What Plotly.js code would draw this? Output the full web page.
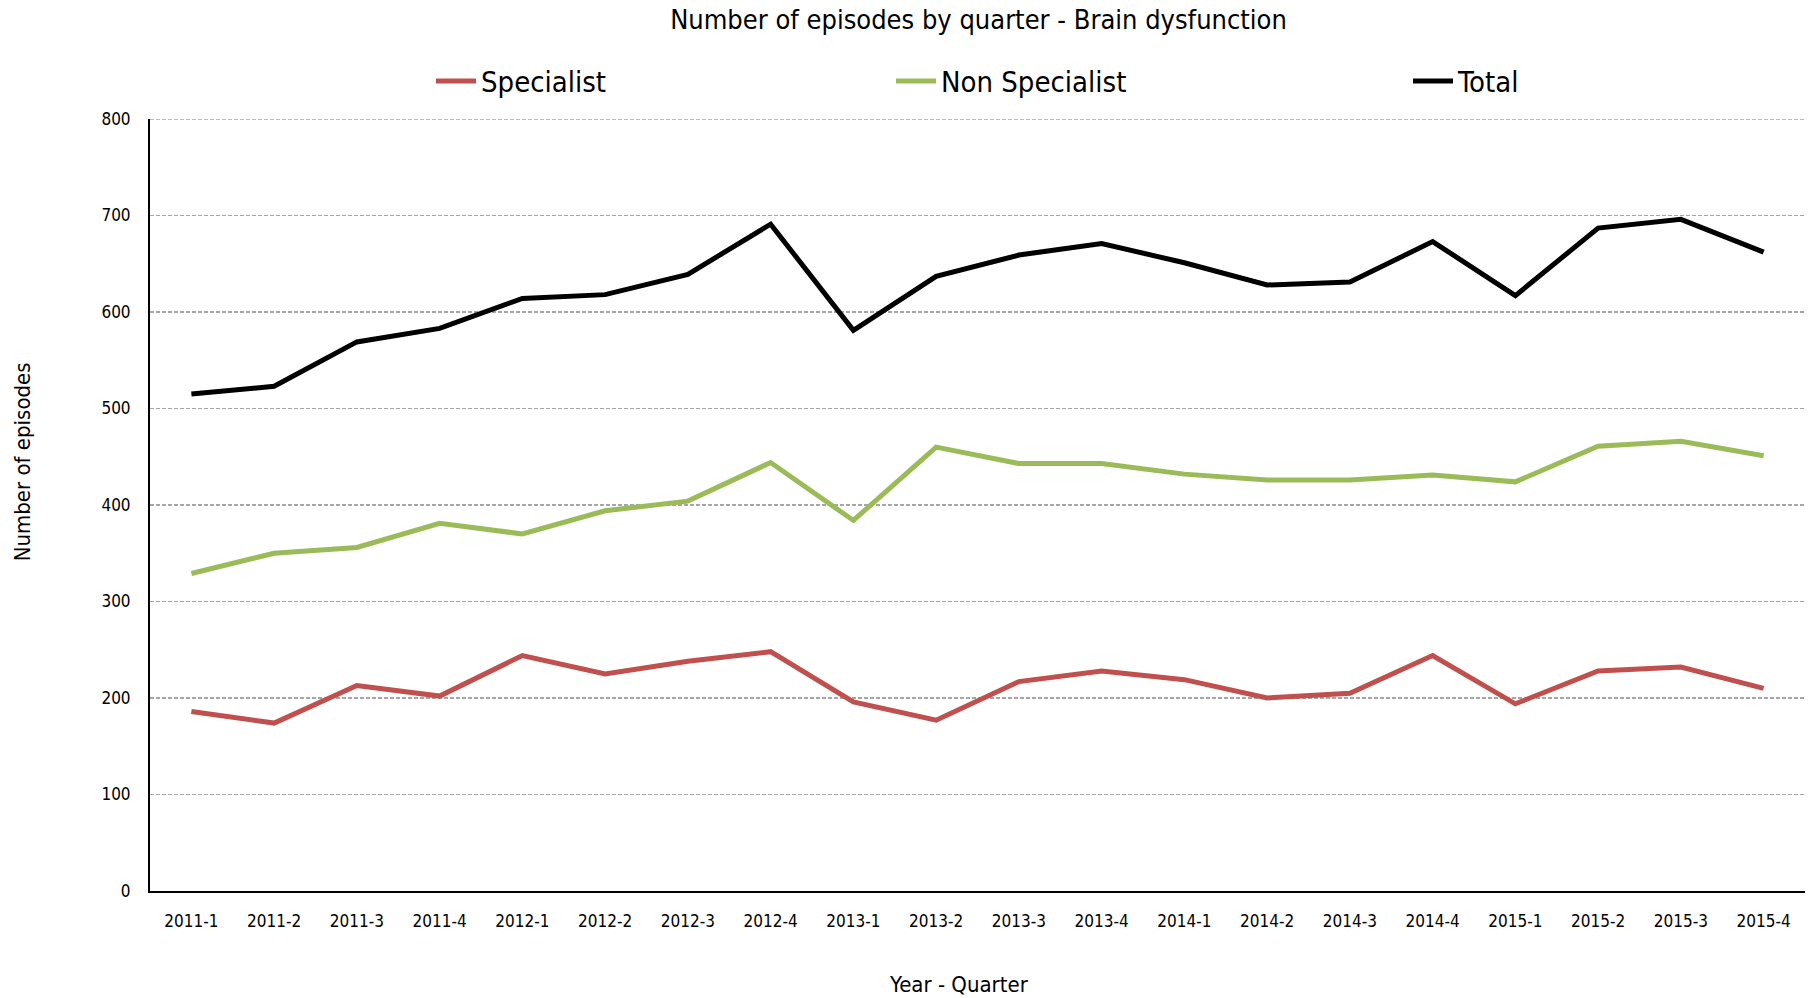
<!DOCTYPE html>
<html>
<head>
<meta charset="utf-8">
<script src="https://cdn.plot.ly/plotly-3.0.1.min.js"></script>
<style>html,body{margin:0;padding:0;background:#fff;}#chart{width:1812px;height:998px;}</style>
</head>
<body>
<div id="chart"></div>
<script>
const quarters = ["2011-1","2011-2","2011-3","2011-4","2012-1","2012-2","2012-3","2012-4","2013-1","2013-2","2013-3","2013-4","2014-1","2014-2","2014-3","2014-4","2015-1","2015-2","2015-3","2015-4"];
const specialist = [186,174,213,202,244,225,238,248,196,177,217,228,219,200,205,244,194,228,232,210];
const nonSpecialist = [329,350,356,381,370,394,404,444,384,460,443,443,432,426,426,431,424,461,466,451];
const total = [515,523,569,583,614,618,639,691,581,637,659,671,651,628,631,673,617,687,696,662];

const FONT = "'Liberation Sans Narrow', 'DejaVu Sans Condensed', 'Liberation Sans', sans-serif";
const GRID_DASH = "4px,2px";

const traces = [
  {x: quarters, y: specialist, name: "Specialist", type: "scatter", mode: "lines",
   line: {color: "#C0504D", width: 5}, legend: "legend"},
  {x: quarters, y: nonSpecialist, name: "Non Specialist", type: "scatter", mode: "lines",
   line: {color: "#9BBB59", width: 5}, legend: "legend2"},
  {x: quarters, y: total, name: "Total", type: "scatter", mode: "lines",
   line: {color: "#000000", width: 5}, legend: "legend3"}
];

function leg(xpx) {
  return {orientation: "h", x: (xpx - 150) / 1655, xanchor: "left", y: 1.049, yanchor: "middle",
          bgcolor: "rgba(0,0,0,0)", font: {family: FONT, size: 29, color: "#000"}, itemwidth: 40};
}

const layout = {
  width: 1812, height: 998,
  margin: {l: 150, r: 7, t: 119, b: 107},
  paper_bgcolor: "#fff", plot_bgcolor: "#fff",
  font: {family: FONT, color: "#000"},
  title: {text: "Number of episodes by quarter - Brain dysfunction", font: {family: FONT, size: 27, color: "#000"},
          x: 0.54, xanchor: "center", y: 0.98, yanchor: "middle"},
  showlegend: true,
  legend: leg(431),
  legend2: leg(891),
  legend3: leg(1408),
  xaxis: {
    type: "category", range: [-0.5, 19.5],
    showline: true, linecolor: "#000", linewidth: 2,
    showgrid: false, zeroline: false, ticks: "", ticklabelstandoff: 14,
    tickfont: {family: FONT, size: 17, color: "#000"}
  },
  yaxis: {
    range: [0, 800], dtick: 100, tick0: 0,
    showline: true, linecolor: "#000", linewidth: 2,
    showgrid: true, gridcolor: "#A6A6A6", gridwidth: 1.5, griddash: GRID_DASH,
    zeroline: false, ticks: "", ticklabelstandoff: 14,
    tickfont: {family: FONT, size: 17, color: "#000"}
  },
  shapes: [
    {type: "line", xref: "paper", yref: "y", x0: 0, x1: 1, y0: 800, y1: 800,
     line: {color: "#A6A6A6", width: 1.5, dash: GRID_DASH}, layer: "below"}
  ],
  annotations: [
    {text: "Number of episodes", xref: "paper", yref: "paper", x: -0.077, y: 0.556,
     xanchor: "center", yanchor: "middle", textangle: -90, showarrow: false,
     font: {family: FONT, size: 22, color: "#000"}},
    {text: "Year - Quarter", xref: "paper", yref: "paper", x: 0.489, y: -0.121,
     xanchor: "center", yanchor: "middle", showarrow: false,
     font: {family: FONT, size: 22, color: "#000"}}
  ]
};

Plotly.newPlot("chart", traces, layout, {displayModeBar: false, staticPlot: true});
</script>
</body>
</html>
